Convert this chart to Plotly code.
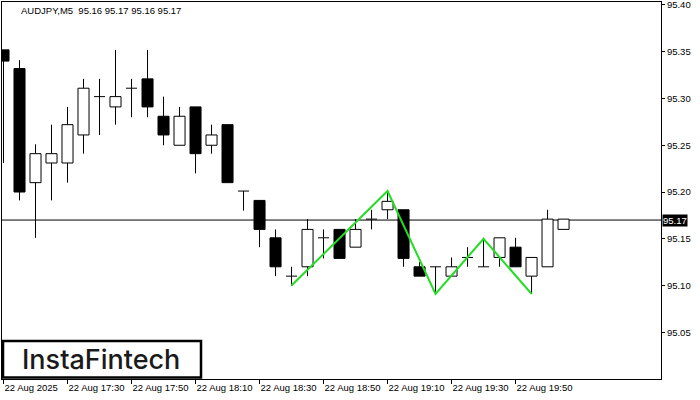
import plotly.graph_objects as go

# ---- data ----
opens  = [95.352, 95.332, 95.210, 95.231, 95.231, 95.261, 95.302, 95.291, 95.311, 95.321,
          95.281, 95.250, 95.291, 95.250, 95.272, 95.201, 95.191, 95.151, 95.110, 95.120,
          95.151, 95.160, 95.141, 95.171, 95.181, 95.181, 95.120, 95.120, 95.110, 95.130,
          95.120, 95.130, 95.141, 95.110, 95.120, 95.160]
highs  = [95.352, 95.341, 95.251, 95.272, 95.291, 95.321, 95.321, 95.352, 95.321, 95.352,
          95.302, 95.291, 95.291, 95.272, 95.272, 95.201, 95.191, 95.160, 95.120, 95.171,
          95.160, 95.160, 95.171, 95.181, 95.201, 95.181, 95.125, 95.120, 95.130, 95.141,
          95.151, 95.151, 95.151, 95.130, 95.181, 95.171]
lows   = [95.231, 95.191, 95.151, 95.191, 95.210, 95.241, 95.261, 95.272, 95.280, 95.280,
          95.250, 95.250, 95.220, 95.241, 95.210, 95.180, 95.141, 95.110, 95.100, 95.110,
          95.129, 95.129, 95.141, 95.160, 95.171, 95.120, 95.110, 95.091, 95.110, 95.120,
          95.120, 95.120, 95.120, 95.091, 95.120, 95.160]
closes = [95.340, 95.200, 95.241, 95.241, 95.272, 95.311, 95.302, 95.302, 95.311, 95.291,
          95.261, 95.281, 95.241, 95.261, 95.210, 95.201, 95.160, 95.120, 95.110, 95.160,
          95.151, 95.129, 95.160, 95.171, 95.190, 95.129, 95.110, 95.120, 95.120, 95.130,
          95.120, 95.151, 95.120, 95.130, 95.171, 95.171]

tick_idx    = [0, 4, 8, 12, 16, 20, 24, 28, 32]
tick_labels = ["22 Aug 2025", "22 Aug 17:30", "22 Aug 17:50", "22 Aug 18:10", "22 Aug 18:30",
               "22 Aug 18:50", "22 Aug 19:10", "22 Aug 19:30", "22 Aug 19:50"]
price_ticks = [95.05, 95.10, 95.15, 95.20, 95.25, 95.30, 95.35, 95.40]

pattern_idx    = [18, 24, 27, 30, 33]
pattern_prices = [95.100, 95.201, 95.091, 95.150, 95.091]

last_price = 95.17
header = "AUDJPY,M5  95.16 95.17 95.16 95.17"

# ---- build ----
n = len(opens)
xs = list(range(n))
BODY_W = 0.69
FONT = "Liberation Sans"
FS = 9.5

fig = go.Figure()

bull_x, bull_base, bull_h = [], [], []
bear_x, bear_base, bear_h = [], [], []
doji_x, doji_y = [], []
for i in xs:
    o, c = opens[i], closes[i]
    if abs(c - o) < 1e-9:
        doji_x += [i - BODY_W / 2, i + BODY_W / 2, None]
        doji_y += [o, o, None]
    elif c > o:
        bull_x.append(i); bull_base.append(o); bull_h.append(c - o)
    else:
        bear_x.append(i); bear_base.append(c); bear_h.append(o - c)

fig.add_trace(go.Bar(x=bull_x, y=bull_h, base=bull_base, width=BODY_W,
                     marker=dict(color="white", line=dict(color="black", width=1)),
                     hoverinfo="skip"))
fig.add_trace(go.Bar(x=bear_x, y=bear_h, base=bear_base, width=BODY_W,
                     marker=dict(color="black", line=dict(color="black", width=1)),
                     hoverinfo="skip"))

wx, wy = [], []
for i in xs:
    top = max(opens[i], closes[i]); bot = min(opens[i], closes[i])
    if highs[i] > top:
        wx += [i, i, None]; wy += [top, highs[i], None]
    if lows[i] < bot:
        wx += [i, i, None]; wy += [bot, lows[i], None]
fig.add_trace(go.Scatter(x=wx, y=wy, mode="lines", line=dict(color="black", width=1),
                         hoverinfo="skip"))
fig.add_trace(go.Scatter(x=doji_x, y=doji_y, mode="lines", line=dict(color="black", width=1),
                         hoverinfo="skip"))

fig.add_trace(go.Scatter(x=pattern_idx, y=pattern_prices, mode="lines",
                         line=dict(color="#22DD22", width=2), hoverinfo="skip"))

fig.add_shape(type="line", xref="paper", x0=0, x1=1, yref="y", y0=last_price, y1=last_price,
              line=dict(color="black", width=1), layer="below")

fig.add_annotation(xref="paper", x=1.0, xanchor="left", xshift=1, yref="y", y=last_price,
                   yanchor="middle",
                   text=f"{last_price:.2f}", showarrow=False,
                   font=dict(family=FONT, size=FS, color="white"),
                   bgcolor="black", borderpad=0)

fig.add_annotation(xref="paper", x=(19 - 2) / 659, xanchor="left",
                   yref="paper", y=(379 - 11) / 377, yanchor="middle",
                   text=header, showarrow=False,
                   font=dict(family=FONT, size=FS, color="black"))

fig.add_shape(type="rect", xref="paper", yref="paper",
              x0=(3 - 2) / 659, x1=(201 - 2) / 659, y0=(379 - 377.5) / 377, y1=(379 - 341) / 377,
              line=dict(color="black", width=2.5), fillcolor="white", layer="above")
fig.add_annotation(xref="paper", yref="paper", x=(101 - 2) / 659, y=(379 - 359) / 377,
                   xanchor="center", yanchor="middle",
                   text="InstaFintech", showarrow=False,
                   font=dict(family="Inter", size=27, color="#1a1a1a", weight=500))

fig.update_layout(
    width=700, height=400,
    margin=dict(l=2, r=39, t=2, b=21, autoexpand=False),
    paper_bgcolor="white", plot_bgcolor="white",
    showlegend=False, barmode="overlay",
    font=dict(family=FONT, size=FS, color="black"),
)
fig.update_xaxes(range=[-0.094, 41.09], tickvals=tick_idx, ticktext=tick_labels,
                 ticks="outside", ticklen=4, tickcolor="black", ticklabelposition="outside right",
                 tickangle=0, automargin=False,
                 showgrid=False, zeroline=False, showline=True, linecolor="black", linewidth=1,
                 mirror=True, tickfont=dict(family=FONT, size=FS, color="black"))
fig.update_yaxes(range=[95.0, 95.4032], side="right", tickvals=price_ticks,
                 ticktext=[f"{v:.2f}" for v in price_ticks], automargin=False,
                 ticklabeloverflow="allow",
                 ticks="outside", ticklen=3, tickcolor="black",
                 showgrid=False, zeroline=False, showline=True, linecolor="black", linewidth=1,
                 mirror=True, tickfont=dict(family=FONT, size=FS, color="black"))

fig.write_html("out.html", config={"displayModeBar": False},
               post_script="document.body.style.margin='0';document.body.style.overflow='hidden';")
